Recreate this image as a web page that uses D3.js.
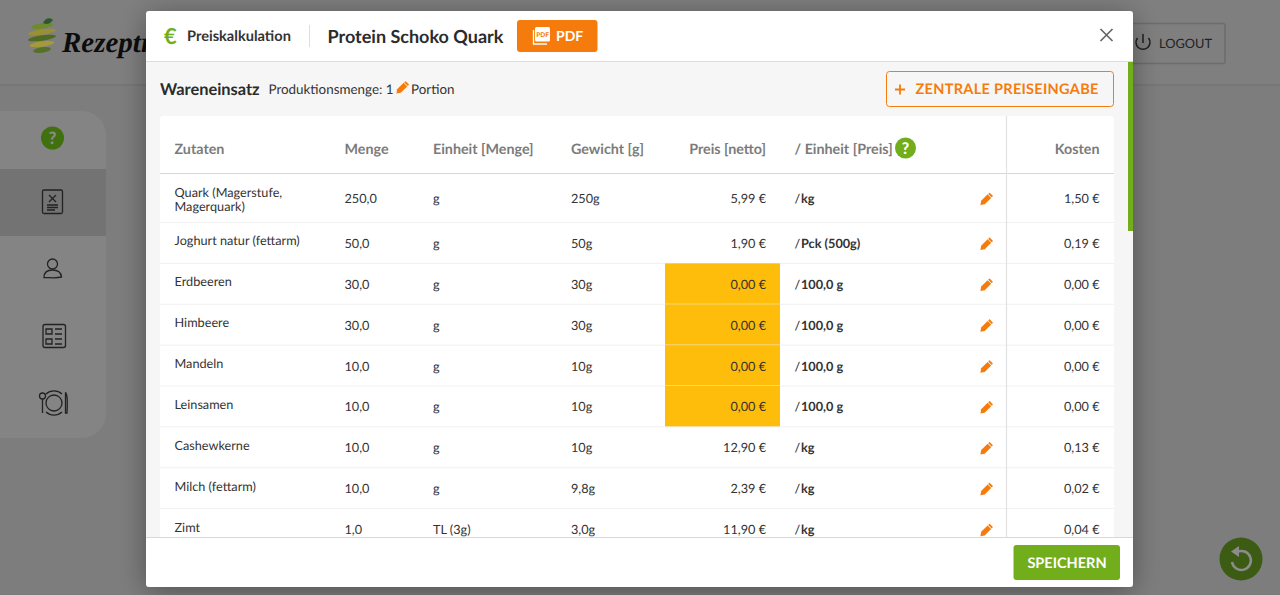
<!DOCTYPE html>
<html>
<head>
<meta charset="utf-8">
<script src="https://cdn.jsdelivr.net/npm/d3@7"></script>
<style>
  html, body { margin: 0; padding: 0; background: #7d7d7d; overflow: hidden; }
  svg { display: block; font-family: Lato, "Open Sans", sans-serif; text-rendering: geometricPrecision; }
</style>
</head>
<body>
<div id="chart"></div>
<script>
// table data
var zutaten = [
  ["Quark (Magerstufe,", "Magerquark)"],
  ["Joghurt natur (fettarm)"],
  ["Erdbeeren"],
  ["Himbeere"],
  ["Mandeln"],
  ["Leinsamen"],
  ["Cashewkerne"],
  ["Milch (fettarm)"],
  ["Zimt"]
];
var mengen = [250, 50, 30, 30, 10, 10, 10, 10, 1];
var einheiten = ["g", "g", "g", "g", "g", "g", "g", "g", "TL (3g)"];
var gewichte = ["250g", "50g", "30g", "30g", "10g", "10g", "10g", "9,8g", "3,0g"];
var preise = [5.99, 1.90, 0, 0, 0, 0, 12.90, 2.39, 11.90];
var preisEinheiten = ["kg", "Pck (500g)", "100,0 g", "100,0 g", "100,0 g", "100,0 g", "kg", "kg", "kg"];
var kosten = [1.50, 0.19, 0, 0, 0, 0, 0.13, 0.02, 0.04];
var spalten = ["Zutaten", "Menge", "Einheit [Menge]", "Gewicht [g]", "Preis [netto]", "/ Einheit [Preis]", "Kosten"];

var width = 1280, height = 595;
var orange = "#f57c0c", green = "#72ae1c";
var cellSize = 12.7;

var de = d3.formatLocale({decimal: ",", thousands: ".", grouping: [3], currency: ["", " €"]});
var fmt1 = de.format(".1f"), fmt2 = de.format(".2f");

var svg = d3.select("#chart").append("svg").attr("width", width).attr("height", height);
var defs = svg.append("defs");

var shadow = defs.append("filter").attr("id", "shadow")
  .attr("x", "-5%").attr("y", "-10%").attr("width", "110%").attr("height", "120%");
shadow.append("feDropShadow").attr("dx", 0).attr("dy", 4).attr("stdDeviation", 14)
  .attr("flood-color", "#000").attr("flood-opacity", 0.35);

defs.append("clipPath").attr("id", "bodyClip").append("rect")
  .attr("x", 146).attr("y", 62).attr("width", 987).attr("height", 475);

// pencil icon, drawn around 0,0
function pencil(g, x, y, s, col) {
  var p = g.append("g").attr("transform", `translate(${x},${y}) rotate(45) scale(${s})`).attr("fill", col);
  p.append("rect").attr("x", -2.1).attr("y", -6.2).attr("width", 4.2).attr("height", 1.6).attr("rx", 0.5);
  p.append("path").attr("d", "M-2.1,-4 L2.1,-4 L2.1,3.6 L0,6.6 L-2.1,3.6 Z");
}

// ---- page behind the modal
svg.append("rect").attr("width", width).attr("height", height).attr("fill", "#7d7d7d");
svg.append("rect").attr("y", 0).attr("width", width).attr("height", 85).attr("fill", "#7f7f7f");
svg.append("line").attr("x1", 0).attr("x2", width).attr("y1", 85).attr("y2", 85).attr("stroke", "#717171");

// logo
var logo = svg.append("g").attr("transform", "translate(42,38)");
[["#6f8a2e", -12, 11], ["#9a8f35", -6, 14], ["#4f6b22", 0, 14], ["#a39a3b", 6, 12.5], ["#55702a", 12, 9]].forEach(function(d) {
  logo.append("ellipse").attr("cx", 0).attr("cy", d[1]).attr("rx", d[2]).attr("ry", 2.7)
    .attr("transform", `rotate(-8,0,${d[1]})`).attr("fill", d[0]);
});
logo.append("path").attr("d", "M1,-15 C3,-20 8,-21 11,-18 C8,-14 5,-13 1,-15 Z").attr("fill", "#2d5a2b");
svg.append("text").attr("x", 62).attr("y", 52).attr("font-family", "'Liberation Serif', serif")
  .attr("font-style", "italic").attr("font-weight", 700).attr("font-size", 29).attr("fill", "#0c0c0c").text("Rezeptr");

// logout
svg.append("rect").attr("x", 1120).attr("y", 23.5).attr("width", 105).attr("height", 40).attr("rx", 2)
  .attr("fill", "none").attr("stroke", "#6c6c6c").attr("stroke-width", 1.5);
svg.append("path").attr("d", "M1137.5,38 A7,7 0 1 0 1148.5,38").attr("fill", "none").attr("stroke", "#1e1e1e").attr("stroke-width", 1.5);
svg.append("line").attr("x1", 1143).attr("x2", 1143).attr("y1", 34).attr("y2", 43).attr("stroke", "#1e1e1e").attr("stroke-width", 1.5);
svg.append("text").attr("x", 1159).attr("y", 48).attr("font-size", 12.8).attr("fill", "#222").text("LOGOUT");

// sidebar
svg.append("rect").attr("x", -30).attr("y", 111).attr("width", 136).attr("height", 327).attr("rx", 24).attr("fill", "#848484");
svg.append("rect").attr("x", 0).attr("y", 169).attr("width", 106).attr("height", 67).attr("fill", "#737373");
svg.append("circle").attr("cx", 52.5).attr("cy", 138).attr("r", 11.5).attr("fill", "#41700f");
svg.append("text").attr("x", 52.5).attr("y", 144).attr("text-anchor", "middle").attr("font-size", 17).attr("font-weight", 900).attr("fill", "#8a8a8a").text("?");

var ic = svg.append("g").attr("fill", "none").attr("stroke", "#222").attr("stroke-width", 1.3);
// rezept tablet
ic.append("rect").attr("x", 42.5).attr("y", 190).attr("width", 20).attr("height", 23.5).attr("rx", 1.5);
ic.append("path").attr("d", "M49,195 L56,202 M56,195 L49,202 M47,205 H58 M47,207.5 H58 M47,210 H55");
// person
ic.append("circle").attr("cx", 52.5).attr("cy", 264).attr("r", 5);
ic.append("path").attr("d", "M44,277.5 C44,272 48,270 52.5,270 C57,270 61,272 61.5,277 C56,278.5 50,277.5 44,277.5 Z");
// checklist
ic.append("rect").attr("x", 43).attr("y", 324.5).attr("width", 22.5).attr("height", 23).attr("rx", 2);
ic.append("path").attr("d", "M46,329 H52 V334 H46 Z M46,339 H52 V344 H46 Z M55,329 H62 M55,334 H62 M55,339 H62 M55,344 H62");
// plate with cutlery
ic.append("circle").attr("cx", 54).attr("cy", 403).attr("r", 8);
ic.append("path").attr("d", "M46,394 A12,12 0 0 1 62,394 M46,412 A12,12 0 0 0 62,412");
ic.append("circle").attr("cx", 42.5).attr("cy", 396).attr("r", 3);
ic.append("path").attr("d", "M42.5,399 V413 M66,393 C68,396 67.5,403 67,413 H65.5 V393 Z");

// reload button
svg.append("circle").attr("cx", 1241).attr("cy", 559).attr("r", 21.5).attr("fill", "#3c5c14");
svg.append("path").attr("d", "M1237,552 A9.5,9.5 0 1 1 1232,562").attr("fill", "none").attr("stroke", "#8c8c8c").attr("stroke-width", 2.5);
svg.append("path").attr("d", "M1239,546 L1239,557 L1231,551.5 Z").attr("fill", "#8c8c8c");

// ---- modal
svg.append("rect").attr("x", 146).attr("y", 11).attr("width", 987).attr("height", 576).attr("rx", 3)
  .attr("fill", "#fff").attr("filter", "url(#shadow)");
svg.append("rect").attr("x", 146).attr("y", 62).attr("width", 987).attr("height", 475).attr("fill", "#f6f6f6");
svg.append("line").attr("x1", 146).attr("x2", 1133).attr("y1", 61.5).attr("y2", 61.5).attr("stroke", "#dcdcdc");

// modal header
svg.append("text").attr("x", 164).attr("y", 44).attr("font-size", 22).attr("font-weight", 700).attr("fill", green).text("€");
svg.append("text").attr("x", 187).attr("y", 41).attr("font-size", 14.6).attr("font-weight", 700).attr("fill", "#333").text("Preiskalkulation");
svg.append("line").attr("x1", 309.5).attr("x2", 309.5).attr("y1", 25).attr("y2", 47).attr("stroke", "#ddd");
svg.append("text").attr("x", 327.5).attr("y", 43).attr("font-size", 18).attr("font-weight", 700).attr("fill", "#2b2b2b").text("Protein Schoko Quark");
svg.append("rect").attr("x", 517).attr("y", 20).attr("width", 80.5).attr("height", 32).attr("rx", 3).attr("fill", orange);
svg.append("rect").attr("x", 535).attr("y", 27).attr("width", 15).attr("height", 14.5).attr("rx", 1.5).attr("fill", "#fff");
svg.append("path").attr("d", "M533.5,30 V44 H547").attr("fill", "none").attr("stroke", "#fff").attr("stroke-width", 1.3);
svg.append("text").attr("x", 542.5).attr("y", 36.5).attr("text-anchor", "middle").attr("font-size", 6.5).attr("font-weight", 900).attr("fill", orange).text("PDF");
svg.append("text").attr("x", 556).attr("y", 41).attr("font-size", 14).attr("font-weight", 700).attr("fill", "#fff").text("PDF");
svg.append("path").attr("d", "M1100.5,29 L1112.5,41 M1112.5,29 L1100.5,41").attr("stroke", "#666").attr("stroke-width", 1.7);

// body header
svg.append("text").attr("x", 160).attr("y", 95).attr("font-size", 16.4).attr("font-weight", 700).attr("fill", "#2b2b2b").text("Wareneinsatz");
svg.append("text").attr("x", 268.5).attr("y", 94).attr("font-size", 13.4).attr("fill", "#333").text("Produktionsmenge: 1");
pencil(svg, 402, 88, 1.2, orange);
svg.append("text").attr("x", 411).attr("y", 94).attr("font-size", 13.4).attr("fill", "#333").text("Portion");
svg.append("rect").attr("x", 886.5).attr("y", 71.5).attr("width", 227).attr("height", 35).attr("rx", 3)
  .attr("fill", "none").attr("stroke", orange);
svg.append("path").attr("d", "M895,89.5 H905 M900,84.5 V94.5").attr("stroke", orange).attr("stroke-width", 1.8);
svg.append("text").attr("x", 915.5).attr("y", 94).attr("font-size", 14.5).attr("font-weight", 700).attr("letter-spacing", 0.3).attr("fill", orange).text("ZENTRALE PREISEINGABE");

// ---- table
var tableGroup = svg.append("g").attr("clip-path", "url(#bodyClip)");
tableGroup.append("rect").attr("x", 160).attr("y", 116).attr("width", 954).attr("height", 440).attr("rx", 3).attr("fill", "#fff");

// first row is taller (two line name), the rest sit in a band scale
var yBand = d3.scaleBand().domain(d3.range(1, zutaten.length)).range([222.5, 549.5]);
function rowTop(i) { return i === 0 ? 173.5 : yBand(i); }
function rowBottom(i) { return i === 0 ? yBand(1) : yBand(i) + yBand.bandwidth(); }
function rowMid(i) { return (rowTop(i) + rowBottom(i)) / 2; }

var rows = tableGroup.selectAll(".row").data(zutaten).enter().append("g").attr("class", "row");

// yellow price cells
rows.filter(function(d, i) { return preise[i] === 0; }).append("rect")
  .attr("x", 665).attr("width", 115)
  .attr("y", function(d) { return rowTop(zutaten.indexOf(d)); })
  .attr("height", yBand.bandwidth())
  .attr("fill", "#fdbd0a");

rows.append("line").attr("x1", 160).attr("x2", 1114)
  .attr("y1", function(d, i) { return rowBottom(i); })
  .attr("y2", function(d, i) { return rowBottom(i); })
  .attr("stroke", "#f1f1f1");

function cell(x, anchor, fn, weight) {
  return rows.append("text").attr("x", x).attr("text-anchor", anchor)
    .attr("y", function(d, i) { return rowMid(i) + 5; })
    .attr("font-size", cellSize).attr("font-weight", weight || 400).attr("fill", "#333")
    .text(fn);
}

// names sit a bit higher than the other cells
rows.each(function(d, i) {
  var t = d3.select(this).append("text").attr("font-size", cellSize).attr("fill", "#333");
  d.forEach(function(line, k) {
    t.append("tspan").attr("x", 174.5)
      .attr("y", (i === 0 ? rowTop(i) + 23 : rowMid(i) + 2.5) + k * 14.5)
      .text(line);
  });
});

cell(344.5, "start", function(d, i) { return fmt1(mengen[i]); });
cell(433, "start", function(d, i) { return einheiten[i]; });
cell(571, "start", function(d, i) { return gewichte[i]; });
cell(766, "end", function(d, i) { return fmt2(preise[i]) + " €"; });
rows.each(function(d, i) {
  var t = d3.select(this).append("text").attr("y", rowMid(i) + 5)
    .attr("font-size", cellSize).attr("fill", "#333");
  t.append("tspan").attr("x", 794.5).text("/");
  t.append("tspan").attr("x", 801).attr("font-weight", 700).text(preisEinheiten[i]);
  pencil(d3.select(this), 986, rowMid(i) + 1.5, 1.2, orange);
});
cell(1099.5, "end", function(d, i) { return fmt2(kosten[i]) + " €"; });

// header row
var headX = [174.5, 344.5, 433, 571, 766, 794.5, 1099.5];
tableGroup.selectAll(".head").data(spalten).enter().append("text").attr("class", "head")
  .attr("x", function(d, i) { return headX[i]; })
  .attr("y", 154).attr("font-size", 14.3).attr("font-weight", 700).attr("fill", "#7b7b7b")
  .attr("text-anchor", function(d, i) { return i === 4 || i === 6 ? "end" : "start"; })
  .text(function(d) { return d; });
tableGroup.append("circle").attr("cx", 905.5).attr("cy", 148).attr("r", 10.5).attr("fill", green);
tableGroup.append("text").attr("x", 905.5).attr("y", 154).attr("text-anchor", "middle").attr("font-size", 16).attr("font-weight", 900).attr("fill", "#fff").text("?");
tableGroup.append("line").attr("x1", 160).attr("x2", 1114).attr("y1", 173.5).attr("y2", 173.5).attr("stroke", "#d8d8d8");
tableGroup.append("line").attr("x1", 1006.5).attr("x2", 1006.5).attr("y1", 116).attr("y2", 537).attr("stroke", "#e2e2e2").attr("stroke-width", 1.2);

// scrollbar
svg.append("rect").attr("x", 1128).attr("y", 62).attr("width", 5).attr("height", 169).attr("fill", green);

// footer
svg.append("line").attr("x1", 146).attr("x2", 1133).attr("y1", 537.5).attr("y2", 537.5).attr("stroke", "#d8d8d8");
svg.append("rect").attr("x", 1013.5).attr("y", 545).attr("width", 106.5).attr("height", 35).attr("rx", 3).attr("fill", green);
svg.append("text").attr("x", 1067).attr("y", 567.5).attr("text-anchor", "middle").attr("font-size", 14.5).attr("font-weight", 700).attr("fill", "#fff").text("SPEICHERN");
</script>
</body>
</html>
